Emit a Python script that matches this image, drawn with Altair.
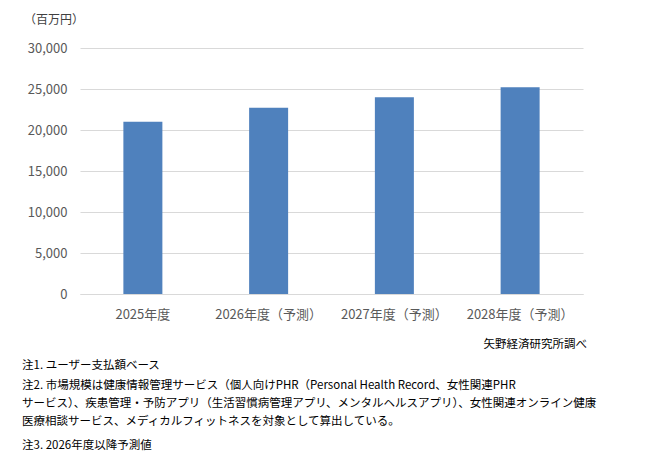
import altair as alt
import pandas as pd

categories = ["2025年度", "2026年度（予測）", "2027年度（予測）", "2028年度（予測）"]
values = [21000, 22700, 24000, 25200]

unit_label = "（百万円）"
source_label = "矢野経済研究所調べ"
notes = [
    "注1. ユーザー支払額ベース",
    "注2. 市場規模は健康情報管理サービス（個人向けPHR（Personal Health Record、女性関連PHR",
    "サービス）、疾患管理・予防アプリ（生活習慣病管理アプリ、メンタルヘルスアプリ）、女性関連オンライン健康",
    "医療相談サービス、メディカルフィットネスを対象として算出している。",
    "注3. 2026年度以降予測値",
]
note_offsets = [318, 338, 356, 374, 398]

FONT = "Noto Sans CJK JP"

df = pd.DataFrame({"cat": categories, "val": values})

bars = alt.Chart(df).mark_bar(color="#4f81bd", size=39).encode(
    x=alt.X("cat:N", sort=categories, title=None,
            scale=alt.Scale(paddingInner=0, paddingOuter=0),
            axis=alt.Axis(labelAngle=0, labelFontSize=13, labelColor="#595959",
                          labelFont=FONT, ticks=False, domainColor="#d9d9d9",
                          labelPadding=14)),
    y=alt.Y("val:Q", title=None,
            scale=alt.Scale(domain=[0, 30000]),
            axis=alt.Axis(values=[0, 5000, 10000, 15000, 20000, 25000, 30000],
                          format=",.0f", labelFontSize=13, labelColor="#595959",
                          labelFont=FONT, ticks=False, domain=False,
                          gridColor="#d9d9d9", labelPadding=13)),
)

unit = alt.Chart(pd.DataFrame({"t": [unit_label]})).mark_text(
    font=FONT, fontSize=12, color="#404040", align="left", baseline="middle"
).encode(x=alt.value(-56), y=alt.value(-28), text="t:N")

source = alt.Chart(pd.DataFrame({"t": [source_label]})).mark_text(
    font=FONT, fontSize=11.5, color="#000000", align="right", baseline="middle"
).encode(x=alt.value(507), y=alt.value(297), text="t:N")

notes_df = pd.DataFrame({"t": notes, "off": note_offsets})
note_layer = alt.Chart(notes_df).mark_text(
    font=FONT, fontSize=11.5, color="#000000", align="left", baseline="middle"
).encode(x=alt.value(-58), y=alt.Y("off:Q", scale=None), text="t:N")

chart = alt.layer(bars, unit, source, note_layer).properties(
    width=503, height=246,
    autosize=alt.AutoSizeParams(type="none"),
    padding={"left": 80, "top": 48, "right": 62, "bottom": 170},
    background="white",
).configure_view(stroke=None)

chart.save("out.html", embed_options={"renderer": "svg", "actions": False})
